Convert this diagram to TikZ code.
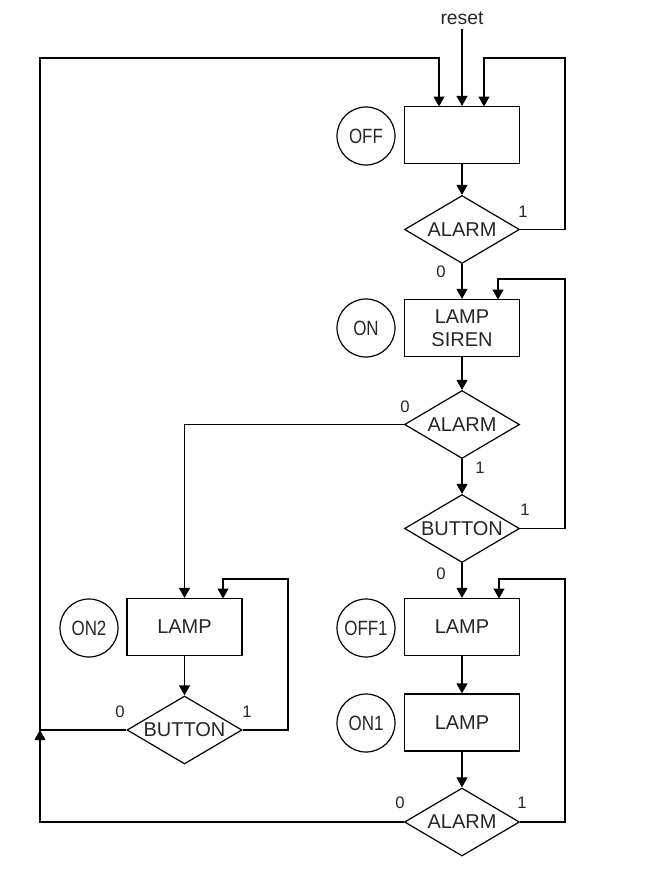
\documentclass[tikz,border=0pt]{standalone}
\usepackage{fontspec}
\setmainfont{Liberation Sans}
\newfontfamily\circfont{Liberation Sans}[FakeStretch=0.82]
\usetikzlibrary{shapes.geometric,arrows.meta}
\definecolor{txt}{HTML}{262626}
\begin{document}
\begin{tikzpicture}[x=0.75pt,y=-0.75pt,line width=0.9pt,
  box/.style={draw,line width=0.9pt,minimum width=86.25pt,minimum height=42.75pt,inner sep=0pt,text=txt,font=\fontsize{15}{17.25}\selectfont,align=center},
  dec/.style={draw,diamond,aspect=1.7,line width=0.9pt,minimum width=86.25pt,minimum height=51pt,inner sep=0pt,text=txt,font=\fontsize{15}{17}\selectfont},
  st/.style={draw,circle,minimum size=43.5pt,inner sep=0pt,line width=0.9pt,text=txt,font=\circfont\fontsize{15.5}{17}\selectfont},
  lbl/.style={text=txt,inner sep=1pt,font=\fontsize{12.5}{15}\selectfont},
  arr/.style={-{Triangle[length=7.5pt,width=8.25pt]}}]
\path[use as bounding box] (0,0) rectangle (670,875);
% nodes
\node[text=txt,font=\fontsize{14.5}{16}\selectfont] (reset) at (462,18) {reset};
\node[box] (off) at (462,135) {};
\node[st] (offc) at (366,136) {OFF};
\node[dec] (d1) at (462,229.5) {ALARM};
\node[box] (on) at (462,328) {LAMP\\SIREN};
\node[st] (onc) at (366,328) {ON};
\node[dec] (d2) at (462,424.5) {ALARM};
\node[dec] (d3) at (462,528.5) {BUTTON};
\node[box] (off1) at (462,627) {LAMP};
\node[st] (off1c) at (366,628) {OFF1};
\node[box] (on1) at (462,722.5) {LAMP};
\node[st] (on1c) at (366,723) {ON1};
\node[dec] (d4) at (462,822) {ALARM};
\node[box] (on2) at (184.5,627) {LAMP};
\node[st] (on2c) at (89,628) {ON2};
\node[dec] (d5) at (184.5,730) {BUTTON};
% helper coordinates
\coordinate (lt) at (40,58);
\coordinate (j) at (40,730);
\coordinate (rt1) at (565,58);
\coordinate (rt2) at (565,279);
\coordinate (rt3) at (565,579);
\coordinate (rt4) at (288,579);
\coordinate (offL) at (439,106.5);
\coordinate (offR) at (484,106.5);
\coordinate (onR) at (498,299.5);
\coordinate (off1R) at (499,598.5);
\coordinate (on2R) at (223,598.5);
% connectors
\draw[arr] (reset) -- (off);
\draw[arr] (off) -- (d1);
\draw[arr] (d1) -- (on);
\draw[arr] (on) -- (d2);
\draw[arr] (d2) -- (d3);
\draw[arr] (d3) -- (off1);
\draw[arr] (off1) -- (on1);
\draw[arr] (on1) -- (d4);
\draw[arr] (on2) -- (d5);
\draw[arr] (d2.west) -| (on2.north);
\draw[arr] (d1.east) -| (rt1) -| (offR);
\draw[arr] (d3.east) -| (rt2) -| (onR);
\draw[arr] (d4.east) -| (rt3) -| (off1R);
\draw[arr] (d5.east) -| (rt4) -| (on2R);
\draw[arr] (d5.west) -| (lt) -| (offL);
\draw[arr] (d4.west) -| (j);
% labels
\node[lbl] (l1) at (523,212) {1};
\node[lbl] (l2) at (441,272) {0};
\node[lbl] (l3) at (405,407) {0};
\node[lbl] (l4) at (480,468) {1};
\node[lbl] (l5) at (525,510) {1};
\node[lbl] (l6) at (441,574) {0};
\node[lbl] (l7) at (120,712) {0};
\node[lbl] (l8) at (247,712) {1};
\node[lbl] (l9) at (400,803) {0};
\node[lbl] (l10) at (522,803) {1};
\end{tikzpicture}
\end{document}
